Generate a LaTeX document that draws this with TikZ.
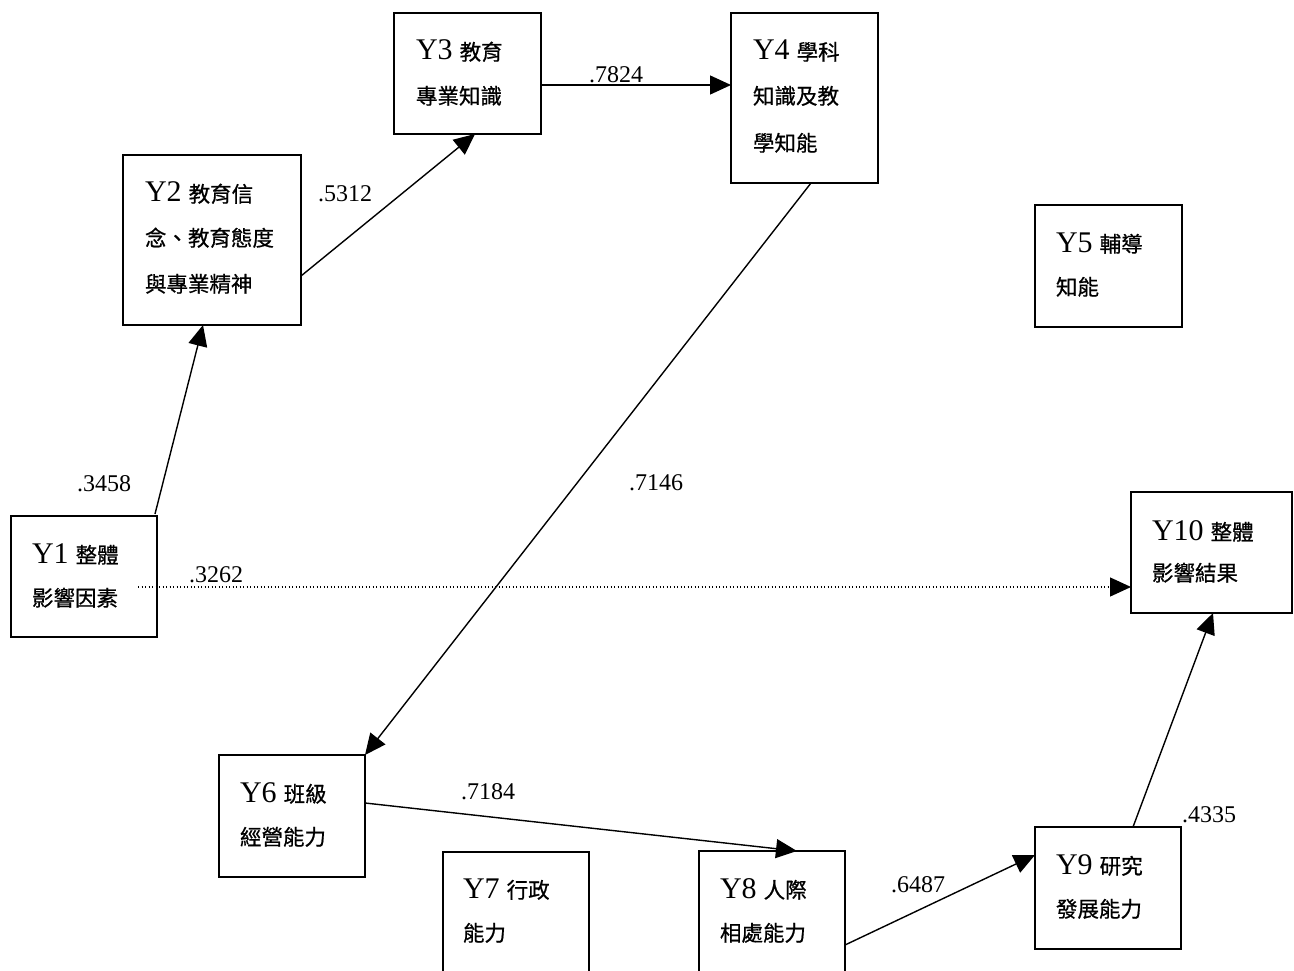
\documentclass[tikz,border=0pt]{standalone}
\usepackage{fontspec}
\setmainfont{Liberation Serif}
\newfontfamily\cjkf{Noto Sans CJK TC}[BoldFont={Noto Sans CJK TC},BoldFeatures={FakeBold=0.7}]
\usetikzlibrary{arrows.meta,calc}
\newcommand\cj[1]{{\cjkf\bfseries\fontsize{21.5}{21.5}\selectfont #1}}
\newcommand\ylab[2]{{\fontsize{30}{30}\selectfont Y#1}\hspace{7pt}\cj{#2}}
\tikzset{
  box/.style={draw, line width=1.8pt, anchor=north west, inner sep=0pt, outer sep=0pt},
  txt/.style={anchor=base west, inner sep=0pt, outer sep=0pt},
  conn/.style={line width=1.4pt, -{Triangle[length=21pt,width=19pt]}},
  dotconn/.style={line width=1.3pt, dash pattern=on 1.3pt off 2.2pt, -{Triangle[length=21pt,width=19pt]}},
  coef/.style={anchor=base, inner sep=0pt, font=\fontsize{24}{24}\selectfont}
}
\begin{document}
\begin{tikzpicture}[x=1pt,y=-1pt]
\clip (0,0) rectangle (1294,971);
\fill[white] (0,0) rectangle (1294,971);
% boxes
\node[box, minimum width=146pt, minimum height=121pt] (y1) at (11,516) {};
\node[box, minimum width=178pt, minimum height=170pt] (y2) at (123,155) {};
\node[box, minimum width=147pt, minimum height=121pt] (y3) at (394,13) {};
\node[box, minimum width=147pt, minimum height=170pt] (y4) at (731,13) {};
\node[box, minimum width=147pt, minimum height=122pt] (y5) at (1035,205) {};
\node[box, minimum width=146pt, minimum height=122pt] (y6) at (219,755) {};
\node[box, minimum width=146pt, minimum height=140pt] (y7) at (443,852) {};
\node[box, minimum width=146pt, minimum height=140pt] (y8) at (699,851) {};
\node[box, minimum width=146pt, minimum height=122pt] (y9) at (1035,827) {};
\node[box, minimum width=161pt, minimum height=121pt] (y10) at (1131,492) {};
% texts
\node[txt] (y1a) at ($(y1.north west)+(21,47)$) {\ylab{1}{整體}};
\node[txt] (y1b) at ($(y1.north west)+(21,90)$) {\cj{影響因素}};
\node[txt] (y2a) at ($(y2.north west)+(22,47)$) {\ylab{2}{教育信}};
\node[txt] (y2b) at ($(y2.north west)+(22,91)$) {\cj{念、教育態度}};
\node[txt] (y2c) at ($(y2.north west)+(22,137)$) {\cj{與專業精神}};
\node[txt] (y3a) at ($(y3.north west)+(22,47)$) {\ylab{3}{教育}};
\node[txt] (y3b) at ($(y3.north west)+(22,91)$) {\cj{專業知識}};
\node[txt] (y4a) at ($(y4.north west)+(22,47)$) {\ylab{4}{學科}};
\node[txt] (y4b) at ($(y4.north west)+(22,91)$) {\cj{知識及教}};
\node[txt] (y4c) at ($(y4.north west)+(22,138)$) {\cj{學知能}};
\node[txt] (y5a) at ($(y5.north west)+(21,47)$) {\ylab{5}{輔導}};
\node[txt] (y5b) at ($(y5.north west)+(21,90)$) {\cj{知能}};
\node[txt] (y6a) at ($(y6.north west)+(21,47)$) {\ylab{6}{班級}};
\node[txt] (y6b) at ($(y6.north west)+(21,90)$) {\cj{經營能力}};
\node[txt] (y7a) at ($(y7.north west)+(20,46)$) {\ylab{7}{行政}};
\node[txt] (y7b) at ($(y7.north west)+(20,89)$) {\cj{能力}};
\node[txt] (y8a) at ($(y8.north west)+(21,47)$) {\ylab{8}{人際}};
\node[txt] (y8b) at ($(y8.north west)+(21,90)$) {\cj{相處能力}};
\node[txt] (y9a) at ($(y9.north west)+(21,47)$) {\ylab{9}{研究}};
\node[txt] (y9b) at ($(y9.north west)+(21,90)$) {\cj{發展能力}};
\node[txt] (y10a) at ($(y10.north west)+(21,48)$) {\ylab{10}{整體}};
\node[txt] (y10b) at ($(y10.north west)+(21,89)$) {\cj{影響結果}};
% connectors
\draw[conn] ($(y1.north east)+(-2,-2)$) -- ($(y2.south west)+(80,0)$);
\draw[conn] ($(y2.north east)+(0,121)$) -- ($(y3.south west)+(81,0)$);
\draw[conn] ($(y3.north east)+(0,72)$) -- ($(y4.north west)+(0,72)$);
\draw[conn] ($(y4.south west)+(80,0)$) -- (y6.north east);
\draw[dotconn] ($(y1.north west)+(127,71)$) -- ($(y10.north west)+(0,95)$);
\draw[conn] ($(y6.north east)+(0,48)$) -- ($(y8.north west)+(98,0)$);
\draw[conn] ($(y8.north east)+(0,94)$) -- ($(y9.north west)+(0,28)$);
\draw[conn] ($(y9.north west)+(98,0)$) -- ($(y10.south west)+(82,0)$);
% coefficients
\node[coef] (c1) at (616,83) {.7824};
\node[coef] (c2) at (345,202) {.5312};
\node[coef] (c3) at (104,491) {.3458};
\node[coef] (c4) at (216,582) {.3262};
\node[coef] (c5) at (656,490) {.7146};
\node[coef] (c6) at (488,799) {.7184};
\node[coef] (c7) at (918,892) {.6487};
\node[coef] (c8) at (1209,822) {.4335};
\end{tikzpicture}
\end{document}
